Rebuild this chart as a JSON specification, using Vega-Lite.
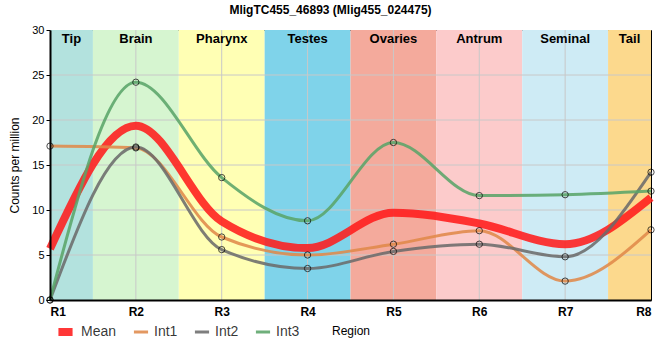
{
  "$schema": "https://vega.github.io/schema/vega-lite/v6.json",
  "autosize": "none",
  "width": 601,
  "height": 270,
  "padding": {"left": 50, "top": 30, "right": 9, "bottom": 60},
  "title": {"text": "MligTC455_46893 (Mlig455_024475)", "font": "Liberation Sans", "fontSize": 12, "fontWeight": "bold", "color": "#000", "anchor": "middle", "dx": -20, "offset": 7},
  "config": {
    "view": {"stroke": "#000", "strokeWidth": 1},
    "font": "Liberation Sans",
    "axis": {"grid": false, "domainColor": "#000", "domainWidth": 2, "tickColor": "#000", "labelColor": "#000", "titleColor": "#000", "labelFontSize": 11, "titleFontSize": 12, "titleFontWeight": "normal"}
  },
  "datasets": {
    "bands": [
      {"band": "Tip", "start": 1, "end": 1.5},
      {"band": "Brain", "start": 1.5, "end": 2.5},
      {"band": "Pharynx", "start": 2.5, "end": 3.5},
      {"band": "Testes", "start": 3.5, "end": 4.5},
      {"band": "Ovaries", "start": 4.5, "end": 5.5},
      {"band": "Antrum", "start": 5.5, "end": 6.5},
      {"band": "Seminal", "start": 6.5, "end": 7.5},
      {"band": "Tail", "start": 7.5, "end": 8}
    ],
    "gridx": [{"g": 2}, {"g": 3}, {"g": 4}, {"g": 5}, {"g": 6}, {"g": 7}],
    "gridy": [{"g": 5}, {"g": 10}, {"g": 15}, {"g": 20}, {"g": 25}],
    "expr": [
      {"region": 1, "series": "Mean", "value": 5.7},
      {"region": 2, "series": "Mean", "value": 19.37},
      {"region": 3, "series": "Mean", "value": 8.73},
      {"region": 4, "series": "Mean", "value": 5.77},
      {"region": 5, "series": "Mean", "value": 9.7},
      {"region": 6, "series": "Mean", "value": 8.5},
      {"region": 7, "series": "Mean", "value": 6.2},
      {"region": 8, "series": "Mean", "value": 11.37},
      {"region": 1, "series": "Int1", "value": 17.1},
      {"region": 2, "series": "Int1", "value": 16.9},
      {"region": 3, "series": "Int1", "value": 7.0},
      {"region": 4, "series": "Int1", "value": 5.0},
      {"region": 5, "series": "Int1", "value": 6.2},
      {"region": 6, "series": "Int1", "value": 7.7},
      {"region": 7, "series": "Int1", "value": 2.1},
      {"region": 8, "series": "Int1", "value": 7.8},
      {"region": 1, "series": "Int2", "value": 0},
      {"region": 2, "series": "Int2", "value": 17.0},
      {"region": 3, "series": "Int2", "value": 5.6},
      {"region": 4, "series": "Int2", "value": 3.5},
      {"region": 5, "series": "Int2", "value": 5.4},
      {"region": 6, "series": "Int2", "value": 6.2},
      {"region": 7, "series": "Int2", "value": 4.8},
      {"region": 8, "series": "Int2", "value": 14.2},
      {"region": 1, "series": "Int3", "value": 0},
      {"region": 2, "series": "Int3", "value": 24.2},
      {"region": 3, "series": "Int3", "value": 13.6},
      {"region": 4, "series": "Int3", "value": 8.8},
      {"region": 5, "series": "Int3", "value": 17.5},
      {"region": 6, "series": "Int3", "value": 11.6},
      {"region": 7, "series": "Int3", "value": 11.7},
      {"region": 8, "series": "Int3", "value": 12.1}
    ]
  },
  "layer": [
    {
      "data": {"name": "bands"},
      "mark": {"type": "rect"},
      "encoding": {
        "x": {"field": "start", "type": "quantitative", "scale": {"domain": [1, 8], "nice": false, "zero": false},
              "axis": {"values": [1,2,3,4,5,6,7,8], "labelExpr": "'R' + datum.value", "title": "Region", "labelFontSize": 12, "labelFontWeight": "bold", "ticks": false, "labelPadding": 6, "titlePadding": 8, "zindex": 1}},
        "x2": {"field": "end"},
        "y": {"datum": 0, "type": "quantitative", "scale": {"domain": [0, 30], "nice": false},
              "axis": {"values": [0,5,10,15,20,25,30], "title": "Counts per million", "ticks": true, "tickSize": 4, "tickWidth": 1, "labelPadding": 2, "titlePadding": 10, "zindex": 1}},
        "y2": {"datum": 30},
        "fill": {"field": "band", "type": "nominal", "legend": null,
                 "scale": {"domain": ["Tip","Brain","Pharynx","Testes","Ovaries","Antrum","Seminal","Tail"],
                           "range": ["#b3e2de","#d6f5d0","#ffffb4","#7fd3ea","#f4aa9c","#fccbcb","#ceebf5","#fcd98d"]}}
      }
    },
    {
      "data": {"name": "gridx"},
      "mark": {"type": "rule", "color": "#c8c8c8", "strokeWidth": 1},
      "encoding": {"x": {"field": "g", "type": "quantitative"}}
    },
    {
      "data": {"name": "gridy"},
      "mark": {"type": "rule", "color": "#c8c8c8", "strokeWidth": 1},
      "encoding": {"y": {"field": "g", "type": "quantitative"}}
    },
    {
      "data": {"name": "bands"},
      "transform": [{"calculate": "(datum.start + datum.end) / 2", "as": "mid"}],
      "mark": {"type": "text", "fontWeight": "bold", "fontSize": 13, "baseline": "top", "dy": 3, "color": "#000"},
      "encoding": {
        "x": {"field": "mid", "type": "quantitative"},
        "y": {"datum": 30},
        "text": {"field": "band"}
      }
    },
    {
      "data": {"name": "expr"},
      "mark": {"type": "line", "interpolate": "monotone", "opacity": 0.87},
      "encoding": {
        "x": {"field": "region", "type": "quantitative"},
        "y": {"field": "value", "type": "quantitative"},
        "stroke": {"field": "series", "type": "nominal", "title": null,
                   "scale": {"domain": ["Mean","Int1","Int2","Int3"], "range": ["#ff1a1a","#e0894a","#6b6b6b","#5aa468"]},
                   "legend": {"orient": "none", "legendX": 4, "legendY": 294, "direction": "horizontal", "symbolType": "stroke", "symbolSize": 200, "labelFontSize": 14, "labelFont": "Liberation Sans", "columnPadding": 15, "labelOffset": 4, "labelOpacity": 0.8, "labelBaseline": "middle", "clipHeight": 16}},
        "strokeWidth": {"field": "series", "type": "nominal", "title": null,
                        "scale": {"type": "ordinal", "domain": ["Mean","Int1","Int2","Int3"], "range": [8, 3, 3, 3]}}
      }
    },
    {
      "data": {"name": "expr"},
      "transform": [{"filter": "datum.series != 'Mean'"}],
      "mark": {"type": "point", "filled": false, "stroke": "#000", "strokeWidth": 1, "size": 40, "fill": "transparent"},
      "encoding": {
        "x": {"field": "region", "type": "quantitative"},
        "y": {"field": "value", "type": "quantitative"}
      }
    }
  ]
}
